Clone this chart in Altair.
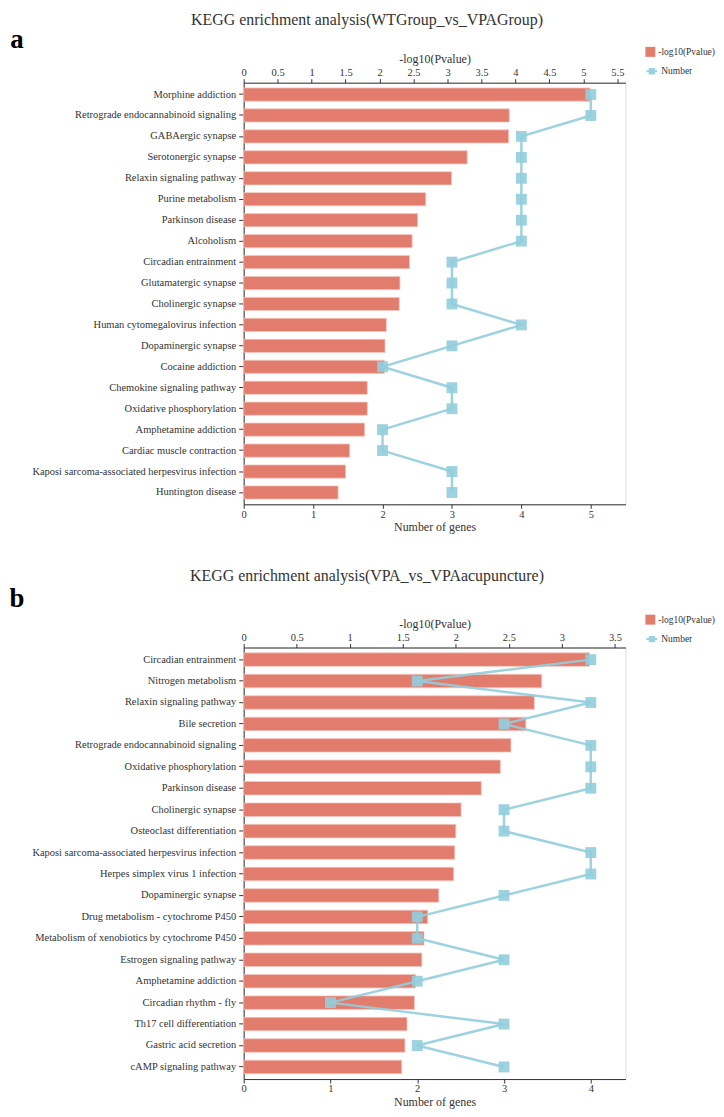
import altair as alt
import pandas as pd

# ---------------- data ----------------
title_a = "KEGG enrichment analysis(WTGroup_vs_VPAGroup)"
path_a = [
    "Morphine addiction", "Retrograde endocannabinoid signaling", "GABAergic synapse",
    "Serotonergic synapse", "Relaxin signaling pathway", "Purine metabolism",
    "Parkinson disease", "Alcoholism", "Circadian entrainment", "Glutamatergic synapse",
    "Cholinergic synapse", "Human cytomegalovirus infection", "Dopaminergic synapse",
    "Cocaine addiction", "Chemokine signaling pathway", "Oxidative phosphorylation",
    "Amphetamine addiction", "Cardiac muscle contraction",
    "Kaposi sarcoma-associated herpesvirus infection", "Huntington disease",
]
pval_a = [5.10, 3.91, 3.90, 3.29, 3.06, 2.68, 2.56, 2.48, 2.44, 2.30,
          2.29, 2.10, 2.08, 2.07, 1.82, 1.82, 1.78, 1.56, 1.50, 1.39]
num_a = [5, 5, 4, 4, 4, 4, 4, 4, 3, 3, 3, 4, 3, 2, 3, 3, 2, 2, 3, 3]

title_b = "KEGG enrichment analysis(VPA_vs_VPAacupuncture)"
path_b = [
    "Circadian entrainment", "Nitrogen metabolism", "Relaxin signaling pathway",
    "Bile secretion", "Retrograde endocannabinoid signaling", "Oxidative phosphorylation",
    "Parkinson disease", "Cholinergic synapse", "Osteoclast differentiation",
    "Kaposi sarcoma-associated herpesvirus infection", "Herpes simplex virus 1 infection",
    "Dopaminergic synapse", "Drug metabolism - cytochrome P450",
    "Metabolism of xenobiotics by cytochrome P450", "Estrogen signaling pathway",
    "Amphetamine addiction", "Circadian rhythm - fly", "Th17 cell differentiation",
    "Gastric acid secretion", "cAMP signaling pathway",
]
pval_b = [3.26, 2.81, 2.74, 2.66, 2.52, 2.42, 2.24, 2.05, 2.00, 1.99,
          1.98, 1.84, 1.735, 1.70, 1.68, 1.62, 1.61, 1.54, 1.52, 1.49]
num_b = [4, 2, 4, 3, 4, 4, 4, 3, 3, 4, 4, 3, 2, 2, 3, 2, 1, 3, 2, 3]

p_ticks_a = [0, 0.5, 1, 1.5, 2, 2.5, 3, 3.5, 4, 4.5, 5, 5.5]
n_ticks_a = [0, 1, 2, 3, 4, 5]
p_ticks_b = [0, 0.5, 1, 1.5, 2, 2.5, 3, 3.5]
n_ticks_b = [0, 1, 2, 3, 4]
series = ["-log10(Pvalue)", "Number"]

# ---------------- style ----------------
RED = "#e27c6d"
BLUE = "#92cddc"
FONT = "Liberation Serif"
TXT = "#333333"
LEG_PATH = "M-1,0H1M-0.4,-0.4H0.4V0.4H-0.4Z"


def panel(paths, pvals, nums, title, tag, pmax, nmax, height,
          pticks, nticks, title_y, tag_y, leg_y):
    df = pd.DataFrame({"pathway": paths, "pval": pvals, "num": nums,
                       "idx": list(range(len(paths))),
                       "sp": [series[0]] * len(paths),
                       "sn": [series[1]] * len(paths)})
    y = alt.Y("pathway:N", sort=paths,
              scale=alt.Scale(paddingInner=0.37, paddingOuter=0.25),
              axis=alt.Axis(title=None, labelFont=FONT, labelFontSize=10.5,
                            labelColor=TXT, tickSize=5, tickColor=TXT,
                            domainColor=TXT, labelPadding=3, labelLimit=400))
    base = alt.Chart(df)
    bars = base.mark_bar(stroke="#f4c6be", strokeWidth=0.8).encode(
        x=alt.X("pval:Q", scale=alt.Scale(domain=[0, pmax], nice=False),
                axis=alt.Axis(orient="top", title="-log10(Pvalue)", values=pticks,
                              format="~g",
                              labelFont=FONT, labelFontSize=10.5, labelColor=TXT,
                              titleFont=FONT, titleFontSize=12, titleFontWeight="normal",
                              titleColor=TXT, tickColor=TXT, domainColor=TXT,
                              tickSize=4, labelPadding=1, grid=False,
                              labelFlush=False, titlePadding=2)),
        y=y,
        fill=alt.Fill("sp:N",
                      scale=alt.Scale(domain=[series[0]], range=[RED]),
                      legend=alt.Legend(title=None, orient="none", legendX=404,
                                        legendY=leg_y, symbolType="square",
                                        symbolSize=100, labelFont=FONT,
                                        labelFontSize=9.5, labelColor=TXT,
                                        labelOffset=3, padding=0,
                                        symbolStrokeWidth=0)),
    )
    xn = alt.X("num:Q", scale=alt.Scale(domain=[0, nmax], nice=False),
               axis=alt.Axis(orient="bottom", title="Number of genes", values=nticks,
                             format="~g",
                             labelFont=FONT, labelFontSize=10.5, labelColor=TXT,
                             titleFont=FONT, titleFontSize=12, titleFontWeight="normal",
                             titleColor=TXT, tickColor=TXT, domainColor=TXT,
                             tickSize=4, labelPadding=1, grid=False,
                             labelFlush=False, titlePadding=2))
    line = base.mark_line(strokeWidth=2.5, opacity=0.9).encode(
        x=xn, y=y, order=alt.Order("idx:Q"),
        stroke=alt.Stroke("sn:N",
                          scale=alt.Scale(domain=[series[1]], range=[BLUE]),
                          legend=alt.Legend(title=None, orient="none", legendX=404,
                                            legendY=leg_y + 18, symbolType=LEG_PATH,
                                            symbolSize=120, symbolStrokeWidth=2,
                                            symbolFillColor=BLUE, labelFont=FONT,
                                            labelFontSize=9.5, labelColor=TXT,
                                            labelOffset=3, padding=0)),
    )
    pts = base.mark_square(size=120, filled=True, color=BLUE, opacity=0.9).encode(
        x=xn, y=y)
    tag_txt = alt.Chart(pd.DataFrame({"t": [tag]})).mark_text(
        font=FONT, fontSize=27, fontWeight="bold", color="#000000",
        align="center", baseline="alphabetic").encode(
        text="t:N", x=alt.value(-228), y=alt.value(tag_y))
    title_txt = alt.Chart(pd.DataFrame({"t": [title]})).mark_text(
        font=FONT, fontSize=16, color=TXT,
        align="center", baseline="middle").encode(
        text="t:N", x=alt.value(124), y=alt.value(title_y))
    ch = alt.layer(bars, alt.layer(line, pts), tag_txt, title_txt).resolve_scale(
        x="independent").properties(width=384, height=height)
    return ch


top = panel(path_a, pval_a, num_a, title_a, "a", 5.62, 5.5, 424,
            p_ticks_a, n_ticks_a, title_y=-63, tag_y=-35, leg_y=-36)
bot = panel(path_b, pval_b, num_b, title_b, "b", 3.6, 4.4, 434,
            p_ticks_b, n_ticks_b, title_y=-72, tag_y=-41, leg_y=-33)

chart = alt.vconcat(top, bot, spacing=34).resolve_scale(
    fill="independent", stroke="independent", y="independent"
).resolve_legend(fill="independent", stroke="independent").properties(
    padding={"left": 0, "top": 0, "right": 0, "bottom": 0}
).configure_view(stroke=None).configure(background="white")

chart.save("out.html", embed_options={"renderer": "svg", "actions": False})
